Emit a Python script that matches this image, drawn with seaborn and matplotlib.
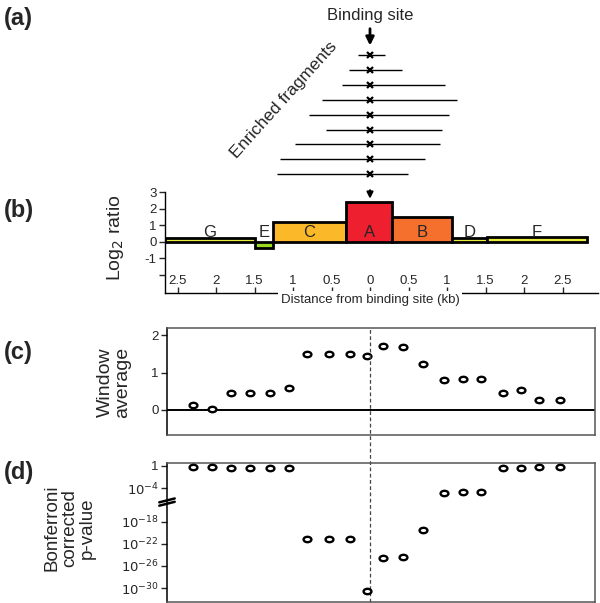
import numpy as np
import matplotlib
matplotlib.use('Agg')
import matplotlib.pyplot as plt
import pandas as pd
import seaborn as sns

from matplotlib.path import Path
from matplotlib.transforms import Affine2D

sns.set_style('white')
plt.rcParams['font.family'] = ['Liberation Sans', 'DejaVu Sans']


# (a) enriched fragments, kb relative to the binding site
frag_start = [-0.16, -0.27, -0.36, -0.62, -0.79, -0.57, -0.97, -1.17, -1.21]
frag_end = [0.19, 0.42, 0.97, 1.13, 1.03, 0.94, 0.91, 0.71, 0.49]

# (b) regions and their log2 ratio
region_labels = ['G', 'E', 'C', 'A', 'B', 'D', 'F']
region_start = [-2.66, -1.50, -1.26, -0.31, 0.29, 1.06, 1.52]
region_end = [-1.50, -1.26, -0.31, 0.29, 1.06, 1.52, 2.82]
region_ratio = [0.25, -0.35, 1.2, 2.4, 1.5, 0.25, 0.3]
region_colors = ['#e8ec3a', '#9bdc22', '#fbb829', '#ee1f2e', '#f4702c', '#e8ec3a', '#e8ec3a']

# (c), (d) sliding windows
window_pos = [-2.30, -2.05, -1.81, -1.56, -1.30, -1.05, -0.82, -0.53, -0.26, -0.04,
              0.17, 0.43, 0.69, 0.96, 1.21, 1.44, 1.73, 1.96, 2.19, 2.47]
window_avg = [0.12, 0.03, 0.44, 0.44, 0.46, 0.59, 1.50, 1.50, 1.50, 1.43,
              1.70, 1.68, 1.22, 0.81, 0.83, 0.83, 0.46, 0.54, 0.26, 0.26]
log10_pvalue = [-0.12, -0.12, -0.4, -0.4, -0.4, -0.4, -21.2, -21.2, -21.2, -30.6,
                -24.5, -24.4, -19.5, -6.1, -5.65, -5.65, -0.4, -0.4, -0.12, -0.12]

xticks_kb = [-2.5, -2, -1.5, -1, -0.5, 0, 0.5, 1, 1.5, 2, 2.5]
pval_ticks = [0, -4, -18, -22, -26, -30]

df = pd.DataFrame({'pos': window_pos, 'avg': window_avg,
                   'p': 10.0 ** np.array(log10_pvalue)})

# layout helpers (pixels of the 600x603 picture)
W, H = 600, 603
KB = 77.0   # px per kb
X0 = 370.0  # px of the binding site


def box(l, t, r, b):
    return [l / W, 1 - b / H, (r - l) / W, (b - t) / H]


def xlim_px(l, r):
    return ((l - X0) / KB, (r - X0) / KB)


# broken log axis: 1e-4 .. 1e-18 squeezed into 6 decades
def fwd(p):
    l = np.log10(np.clip(p, 1e-300, None))
    return np.where(l >= -4, l, np.where(l <= -18, l + 8, -4 + (l + 4) * 6 / 14))


def inv(t):
    t = np.asarray(t, dtype=float)
    l = np.where(t >= -4, t, np.where(t <= -10, t - 8, -4 + (t + 4) * 14 / 6))
    return 10.0 ** l


ellipse = Path.unit_circle().transformed(Affine2D().scale(1.45, 1.0))

fig = plt.figure(figsize=(6, 6.03), dpi=100)

# %% (a)
ax_a = fig.add_axes(box(165, 0, 598, 186))
ax_a.set_xlim(xlim_px(165, 598))
ax_a.set_ylim(8.79, -3.69)
ax_a.axis('off')
rows = np.arange(len(frag_start))
ax_a.hlines(rows, frag_start, frag_end, color='black', lw=1)
ax_a.plot(np.zeros(len(rows)), rows, 'x', color='black', ms=4.5, mew=1.6)
ax_a.text(0, -2.68, 'Binding site', ha='center', va='center', fontsize=12)
ax_a.annotate('', xy=(0, -0.45), xytext=(0, -1.95),
              arrowprops=dict(arrowstyle='-|>', color='black', lw=2, mutation_scale=12))
ax_a.text(-1.12, 3.0, 'Enriched fragments', rotation=48, ha='center', va='center',
          fontsize=12.5, rotation_mode='anchor')

# %% (b)
ax_b = fig.add_axes(box(165, 186, 598, 293))
ax_b.patch.set_alpha(0)
widths = np.subtract(region_end, region_start)
ax_b.bar(region_start, region_ratio, width=widths, align='edge',
         color=region_colors, edgecolor='black', linewidth=2, zorder=2)
for lab, s, e in zip(region_labels, region_start, region_end):
    ax_b.text((s + e) / 2, 0.6, lab, ha='center', va='center', fontsize=12, zorder=3)
ax_b.set_xlim(xlim_px(165, 598))
ax_b.set_ylim(-3.09, 3.39)
ax_b.annotate('', xy=(0, 2.45), xytext=(0, 3.3), annotation_clip=False,
              arrowprops=dict(arrowstyle='-|>', color='black', lw=1.5, mutation_scale=9))
sns.despine(ax=ax_b)
for sp in ('left', 'bottom'):
    ax_b.spines[sp].set_color('black')
    ax_b.spines[sp].set_linewidth(1.0)
ax_b.spines['left'].set_bounds(-3.09, 3.0)
ax_b.set_yticks([-2, -1, 0, 1, 2, 3])
ax_b.set_yticklabels(['', '-1', '0', '1', '2', '3'])
ax_b.set_xticks(xticks_kb)
ax_b.set_xticklabels([f'{abs(v):g}' for v in xticks_kb])
ax_b.tick_params(axis='y', direction='out', length=4, width=1, labelsize=9.5, pad=2, left=True)
ax_b.tick_params(axis='x', direction='in', length=4, width=1, labelsize=9.5, pad=-13, bottom=True)
ax_b.text(0, -3.52, 'Distance from binding site (kb)', ha='center', va='center', fontsize=9.5,
          bbox=dict(facecolor='white', edgecolor='none', pad=2), clip_on=False, zorder=5)

# %% (c)
ax_c = fig.add_axes(box(167, 328, 595, 435))
ax_c.axhline(0, color='black', lw=1.4, zorder=1)
sns.scatterplot(data=df, x='pos', y='avg', marker=ellipse, s=32, color='white',
                edgecolor='black', linewidth=1.7, ax=ax_c, legend=False, zorder=3)
ax_c.set_xlim(xlim_px(167, 595))
ax_c.set_ylim(-0.67, 2.19)
ax_c.set_yticks([0, 1, 2])
ax_c.set_xticks([])
ax_c.set(xlabel='', ylabel='')

# %% (d)
ax_d = fig.add_axes(box(167, 463, 595, 602))
ax_d.set_yscale('function', functions=(fwd, inv))
sns.scatterplot(data=df, x='pos', y='p', marker=ellipse, s=32, color='white',
                edgecolor='black', linewidth=1.7, ax=ax_d, legend=False, zorder=3)
ax_d.set_xlim(xlim_px(167, 595))
ax_d.set_ylim(inv(-24.5), inv(0.54))
ax_d.yaxis.set_major_locator(matplotlib.ticker.FixedLocator([10.0 ** v for v in pval_ticks]))
ax_d.yaxis.set_minor_locator(matplotlib.ticker.NullLocator())
ax_d.set_yticklabels(['1' if v == 0 else f'$10^{{{v}}}$' for v in pval_ticks])
ax_d.set_xticks([])
ax_d.set(xlabel='', ylabel='')

# axis break mark on the left spine
for dt in (-0.25, 0.35):
    ax_d.plot([-0.018, 0.018], inv([-6.9 + dt, -6.2 + dt]), color='black', lw=1.8,
              transform=ax_d.get_yaxis_transform(), clip_on=False, zorder=5)

for ax in (ax_c, ax_d):
    for sp in ax.spines.values():
        sp.set_color('#555555')
        sp.set_linewidth(1.1)
    ax.spines['left'].set_color('black')
    ax.tick_params(axis='y', direction='out', length=4, width=1, labelsize=9.5, pad=2, left=True)

# dashed guide at the binding site through (c) and (d)
ax_d.axvline(0, ymin=0, ymax=(602 - 328) / (602 - 463), color='#444444', lw=0.9,
             ls=(0, (3, 2)), clip_on=False, zorder=0)

# %% labels
fig.text(116 / W, 1 - 238 / H, 'Log$_2$ ratio', rotation=90, ha='center', va='center', fontsize=14)
fig.text(114 / W, 1 - 382 / H, 'Window\naverage', rotation=90, ha='center', va='center',
         fontsize=14, linespacing=1.05)
fig.text(70 / W, 1 - 528 / H, 'Bonferroni\ncorrected\np-value', rotation=90, ha='center',
         va='center', fontsize=13.5, linespacing=1.05)
for lab, y in (('(a)', 18), ('(b)', 210), ('(c)', 352), ('(d)', 472)):
    fig.text(4 / W, 1 - y / H, lab, ha='left', va='center', fontsize=17, fontweight='bold')

fig.savefig('out.png', dpi=100)
